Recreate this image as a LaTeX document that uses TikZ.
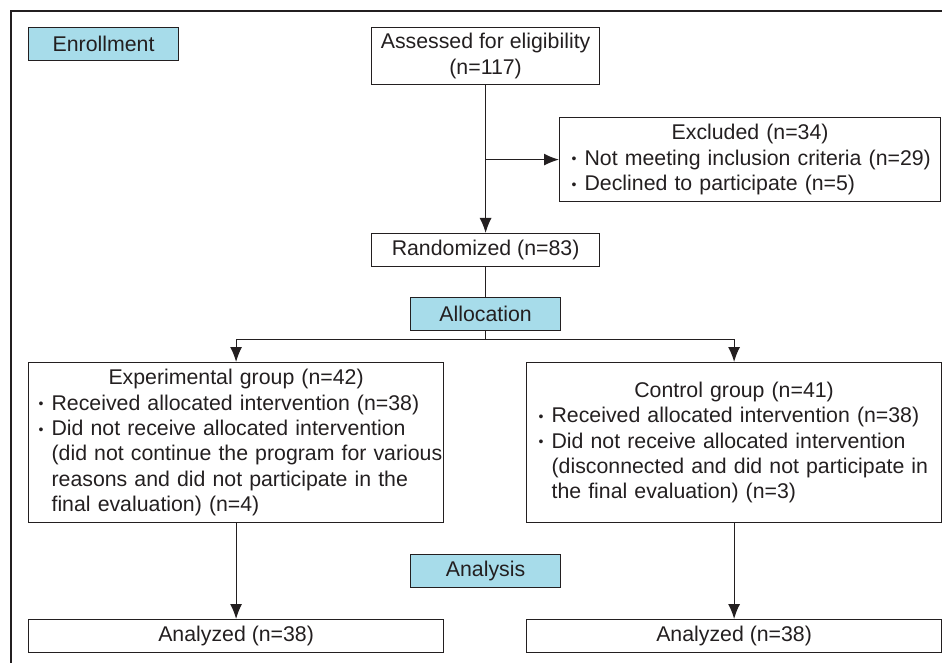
\documentclass[tikz,border=0pt]{standalone}
\usepackage{fontspec}
\setmainfont{Liberation Sans}
\usetikzlibrary{arrows.meta}
\definecolor{phase}{RGB}{167,220,234}
\definecolor{ink}{RGB}{35,31,32}
\newcommand\bl[1]{\mbox{\makebox[13pt][l]{\raisebox{1.2pt}{\fontsize{14}{14}\selectfont •}}#1}}
\newcommand\cl[1]{\mbox{\hspace*{13pt}#1}}
\newcommand\hd[1]{\makebox[\hsize][c]{#1}}
\begin{document}
\begin{tikzpicture}[x=1pt,y=-1pt,
  box/.style={draw=ink, line width=1.2pt, text=ink, anchor=north west, inner ysep=0pt,
    font=\fontsize{21.3}{25.3}\selectfont, align=center},
  phasebox/.style={box, fill=phase},
  ln/.style={draw=ink, line width=1.2pt},
  arr/.style={ln, -{Latex[length=15pt,width=12pt]}}]
\useasboundingbox (0,0) rectangle (942,663);
\coordinate (fa) at (11,663);
\coordinate (fb) at (11,11);
\coordinate (fc) at (942,11);
\draw[ln] (fa) -- (fb) -- (fc);

\node[phasebox, minimum width=150pt, minimum height=33pt] (enroll) at (28,27) {Enrollment};
\node[box, minimum width=228pt, minimum height=57pt, font=\fontsize{21.3}{26.5}\selectfont] (assess) at (371,27) {Assessed for eligibility\\(n=117)};
\node[box, align=left, minimum width=381pt, minimum height=84pt, text width=357pt, inner xsep=12pt] (excl) at (559,117)
  {\hd{Excluded (n=34)}\\ \bl{Not meeting inclusion criteria (n=29)}\\ \bl{Declined to participate (n=5)}};
\node[box, minimum width=228pt, minimum height=33pt] (rand) at (371,233) {Randomized (n=83)};
\node[phasebox, minimum width=150pt, minimum height=33pt] (alloc) at (410,297) {Allocation};
\node[box, align=left, minimum width=415pt, minimum height=160pt, text width=395pt, inner xsep=10pt] (exp) at (28,362)
  {\hd{Experimental group (n=42)}\\
   \bl{Received allocated intervention (n=38)}\\
   \bl{Did not receive allocated intervention}\\
   \cl{(did not continue the program for various}\\
   \cl{reasons and did not participate in the}\\
   \cl{final evaluation) (n=4)}};
\node[box, align=left, minimum width=415pt, minimum height=160pt, text width=391pt, inner xsep=12pt] (ctrl) at (526,362)
  {\hd{Control group (n=41)}\\
   \bl{Received allocated intervention (n=38)}\\
   \bl{Did not receive allocated intervention}\\
   \cl{(disconnected and did not participate in}\\
   \cl{the final evaluation) (n=3)}};
\node[phasebox, minimum width=150pt, minimum height=33pt] (analysis) at (410,554) {Analysis};
\node[box, minimum width=415pt, minimum height=33pt] (an1) at (28,619) {Analyzed (n=38)};
\node[box, minimum width=415pt, minimum height=33pt] (an2) at (526,619) {Analyzed (n=38)};

\coordinate (br) at (excl.west -| assess.south);
\path (alloc.south) ++(0,8) coordinate (split);
\draw[arr] (assess.south) -- (rand.north);
\draw[arr] (br) -- (excl.west);
\draw[ln] (rand.south) -- (alloc.north);
\draw[ln] (alloc.south) -- (split);
\draw[arr] (split) -| (exp.north);
\draw[arr] (split) -| (ctrl.north);
\draw[arr] (exp.south) -- (an1.north);
\draw[arr] (ctrl.south) -- (an2.north);
\end{tikzpicture}
\end{document}
